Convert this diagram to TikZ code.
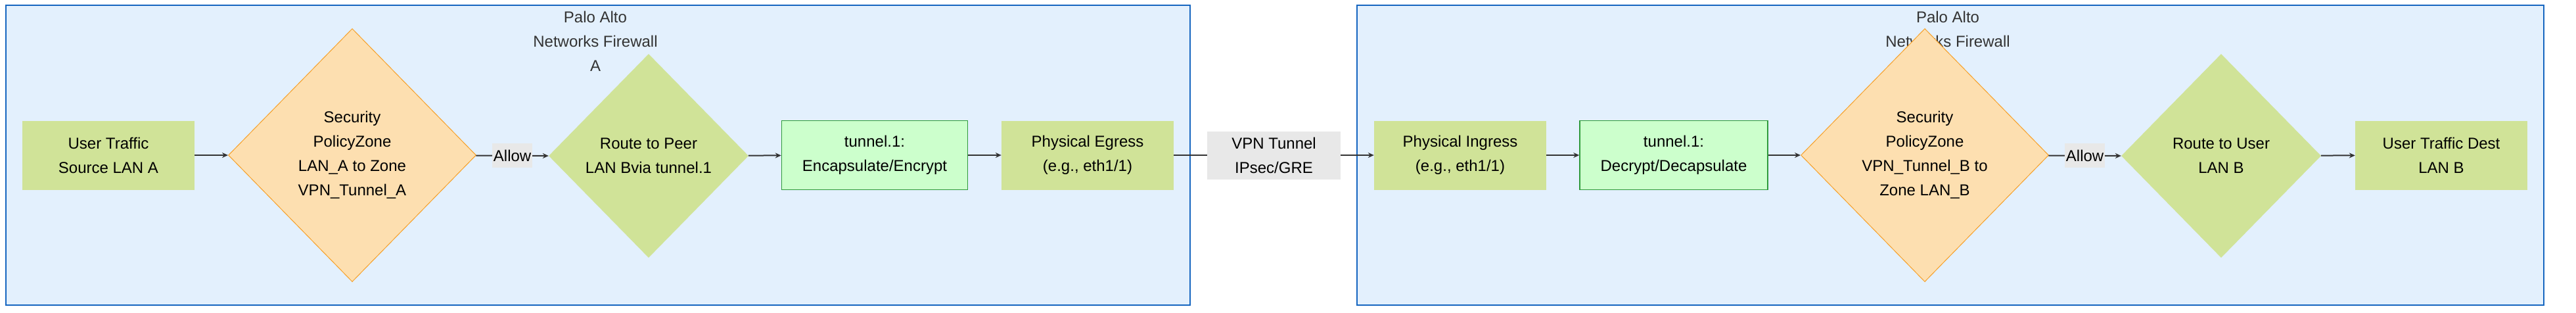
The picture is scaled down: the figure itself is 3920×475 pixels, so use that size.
\documentclass[tikz,border=0pt]{standalone}
\usepackage{fontspec}
\setmainfont{Liberation Sans}
\usetikzlibrary{shapes.geometric,arrows.meta}
\definecolor{clusterfill}{HTML}{E3F0FD}
\definecolor{clusterdraw}{HTML}{1565C0}
\definecolor{leaf}{HTML}{D0E398}
\definecolor{sec}{HTML}{FDDFB0}
\definecolor{secdraw}{HTML}{F7A028}
\definecolor{tun}{HTML}{CCFFCC}
\definecolor{tundraw}{HTML}{2E9A3A}
\definecolor{lbl}{HTML}{E8E8E8}
\definecolor{edge}{HTML}{333333}
\tikzset{
  txt/.style={font=\fontsize{24}{37}\selectfont, align=center, text=black},
  box/.style={txt, fill=leaf, minimum width=262pt, minimum height=105pt, inner sep=0pt},
  tbox/.style={txt, fill=tun, draw=tundraw, line width=1.5pt, minimum width=283pt, minimum height=105pt, inner sep=0pt},
  sdia/.style={txt, diamond, fill=sec, draw=secdraw, line width=1pt, minimum width=377pt, minimum height=385pt, inner sep=0pt},
  rdia/.style={txt, diamond, fill=leaf, minimum width=304pt, minimum height=310pt, inner sep=0pt},
  cluster/.style={fill=clusterfill, draw=clusterdraw, line width=2.5pt},
  elbl/.style={txt, fill=lbl, inner sep=2pt, minimum height=37pt},
  conn/.style={draw=edge, line width=2pt, -{Stealth[length=9pt,width=8pt]}},
  ttl/.style={txt, text=black!80}
}
\begin{document}
\begin{tikzpicture}[x=1pt,y=-1pt]
\useasboundingbox (0,0) rectangle (3920,475);
\fill[white] (0,0) rectangle (3920,475);
\draw[cluster] (9,8) rectangle (1811,464);
\draw[cluster] (2065,8) rectangle (3871,464);
\node[ttl] (tA) at (906,63) {Palo Alto\\Networks Firewall\\A};
\node[ttl] (tB) at (2964,63) {Palo Alto\\Networks Firewall\\B};

\node[box] (src) at (165,236) {User Traffic\\Source LAN A};
\node[sdia] (secA) at (536,236) {Security\\PolicyZone\\LAN\_A to Zone\\VPN\_Tunnel\_A};
\node[rdia] (rtA) at (987,237) {Route to Peer\\LAN Bvia tunnel.1};
\node[tbox] (enc) at (1331,236) {tunnel.1:\\Encapsulate/Encrypt};
\node[box] (egr) at (1655,236) {Physical Egress\\(e.g., eth1/1)};

\node[box] (ing) at (2222,236) {Physical Ingress\\(e.g., eth1/1)};
\node[tbox, minimum width=286pt] (dec) at (2547,236) {tunnel.1:\\Decrypt/Decapsulate};
\node[sdia] (secB) at (2929,236) {Security\\PolicyZone\\VPN\_Tunnel\_B to\\Zone LAN\_B};
\node[rdia] (rtB) at (3380,237) {Route to User\\LAN B};
\node[box] (dst) at (3715,236) {User Traffic Dest\\LAN B};

\draw[conn] (src) -- (secA);
\draw[conn] (secA) -- node[elbl] (al1) {Allow} (rtA.west);
\draw[conn] (rtA) -- (enc);
\draw[conn] (enc) -- (egr);
\draw[conn] (egr) -- node[elbl, minimum width=203pt, minimum height=73pt] (vpn) {VPN Tunnel\\IPsec/GRE} (ing);
\draw[conn] (ing) -- (dec);
\draw[conn] (dec) -- (secB);
\draw[conn] (secB) -- node[elbl] (al2) {Allow} (rtB.west);
\draw[conn] (rtB) -- (dst);
\end{tikzpicture}
\end{document}
